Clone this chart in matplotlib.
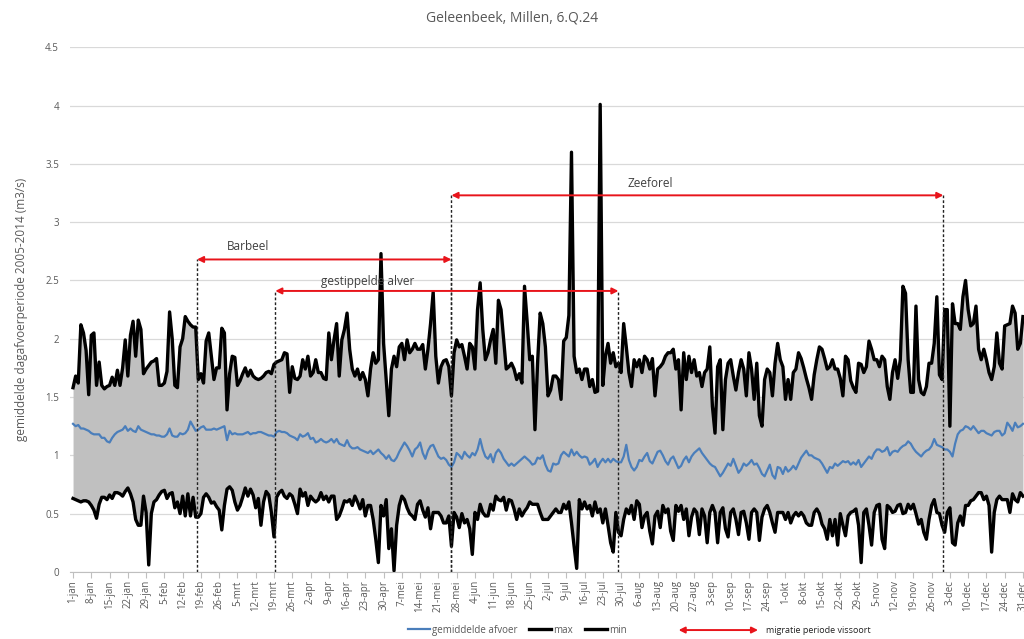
import datetime
import numpy as np
import matplotlib
matplotlib.use('Agg')
import matplotlib.pyplot as plt
from matplotlib.lines import Line2D

plt.rcParams['font.family'] = ['Open Sans', 'DejaVu Sans']

# dagwaarden 1-jan t/m 31-dec (m3/s)
max_afvoer = [
    1.58, 1.68, 1.62, 2.12, 2.05, 1.90, 1.52, 2.03, 2.05, 1.60,
    1.80, 1.60, 1.57, 1.59, 1.60, 1.67, 1.60, 1.73, 1.60, 1.75,
    1.99, 1.68, 2.03, 2.15, 1.85, 2.16, 2.08, 1.70, 1.74, 1.77,
    1.80, 1.81, 1.83, 1.60, 1.60, 1.62, 1.72, 2.23, 2.00, 1.60,
    1.58, 1.93, 2.00, 2.19, 2.15, 2.12, 2.10, 2.10, 1.65, 1.70,
    1.62, 1.98, 2.05, 1.85, 1.65, 1.75, 1.75, 2.09, 2.05, 1.39,
    1.70, 1.85, 1.84, 1.60, 1.64, 1.70, 1.75, 1.68, 1.73, 1.68,
    1.66, 1.65, 1.66, 1.68, 1.71, 1.72, 1.70, 1.78, 1.80, 1.81,
    1.82, 1.88, 1.87, 1.54, 1.76, 1.66, 1.65, 1.68, 1.82, 1.74,
    1.85, 1.68, 1.71, 1.82, 1.71, 1.71, 1.66, 1.65, 2.05, 1.82,
    1.99, 2.13, 1.68, 1.99, 2.08, 2.22, 1.91, 1.74, 1.68, 1.74,
    1.65, 1.71, 1.65, 1.51, 1.74, 1.88, 1.79, 1.82, 2.73, 1.96,
    1.65, 1.34, 1.74, 1.85, 1.76, 1.93, 1.96, 1.82, 1.99, 1.88,
    1.91, 1.96, 1.91, 1.91, 1.95, 1.74, 1.91, 2.13, 2.40, 1.85,
    1.62, 1.76, 1.81, 1.82, 1.76, 1.51, 1.88, 1.99, 1.93, 1.95,
    1.85, 1.74, 1.96, 1.93, 1.74, 2.25, 2.48, 2.08, 1.82, 1.88,
    1.99, 2.08, 1.79, 2.33, 2.25, 1.99, 1.74, 1.76, 1.79, 1.74,
    1.65, 1.70, 1.62, 2.45, 2.15, 1.82, 1.85, 1.22, 1.79, 2.22,
    2.13, 1.93, 1.51, 1.56, 1.68, 1.68, 1.65, 1.48, 1.98, 2.01,
    2.20, 3.60, 1.85, 1.71, 1.74, 1.65, 1.74, 1.74, 1.59, 1.65,
    1.54, 1.55, 4.01, 1.60, 1.85, 1.96, 1.79, 1.88, 1.76, 1.79,
    1.71, 2.13, 1.93, 1.71, 1.59, 1.82, 1.76, 1.82, 1.71, 1.85,
    1.82, 1.74, 1.83, 1.51, 1.74, 1.76, 1.79, 1.85, 1.88, 1.88,
    1.91, 1.74, 1.82, 1.39, 1.88, 1.65, 1.85, 1.71, 1.82, 1.68,
    1.71, 1.59, 1.71, 1.74, 1.93, 1.42, 1.19, 1.76, 1.82, 1.22,
    1.65, 1.79, 1.82, 1.68, 1.56, 1.71, 1.82, 1.74, 1.51, 1.88,
    1.74, 1.48, 1.79, 1.34, 1.25, 1.65, 1.74, 1.71, 1.51, 1.79,
    1.96, 1.82, 1.76, 1.48, 1.65, 1.48, 1.71, 1.74, 1.88, 1.83,
    1.75, 1.66, 1.58, 1.48, 1.69, 1.82, 1.93, 1.91, 1.83, 1.74,
    1.76, 1.82, 1.74, 1.74, 1.66, 1.51, 1.85, 1.82, 1.64, 1.58,
    1.54, 1.79, 1.78, 1.71, 1.76, 1.98, 1.91, 1.82, 1.82, 1.76,
    1.85, 1.82, 1.59, 1.48, 1.71, 1.82, 1.66, 1.82, 2.45, 2.39,
    1.82, 1.54, 1.54, 2.28, 1.65, 1.54, 1.52, 1.59, 1.79, 1.79,
    1.96, 2.36, 1.69, 1.65, 2.25, 2.25, 1.25, 2.30, 2.13, 2.13,
    2.08, 2.36, 2.50, 2.25, 2.11, 2.13, 2.28, 1.91, 1.82, 1.91,
    1.82, 1.71, 1.65, 1.76, 2.05, 1.79, 1.74, 2.11, 2.12, 2.13,
    2.28, 2.22, 1.91, 1.96, 2.19,
]

min_afvoer = [
    0.63, 0.62, 0.61, 0.60, 0.61, 0.61, 0.60, 0.57, 0.53, 0.46,
    0.58, 0.64, 0.64, 0.62, 0.66, 0.63, 0.68, 0.68, 0.67, 0.65,
    0.69, 0.72, 0.67, 0.60, 0.45, 0.40, 0.40, 0.65, 0.51, 0.06,
    0.50, 0.60, 0.62, 0.66, 0.69, 0.70, 0.63, 0.67, 0.68, 0.55,
    0.60, 0.50, 0.65, 0.48, 0.67, 0.48, 0.64, 0.47, 0.47, 0.50,
    0.64, 0.67, 0.64, 0.59, 0.60, 0.56, 0.53, 0.36, 0.57, 0.71,
    0.73, 0.70, 0.60, 0.53, 0.57, 0.64, 0.72, 0.65, 0.71, 0.66,
    0.55, 0.63, 0.40, 0.60, 0.69, 0.66, 0.51, 0.30, 0.64, 0.68,
    0.70, 0.65, 0.63, 0.67, 0.65, 0.58, 0.50, 0.71, 0.65, 0.68,
    0.57, 0.65, 0.62, 0.60, 0.62, 0.68, 0.62, 0.65, 0.60, 0.65,
    0.65, 0.45, 0.48, 0.54, 0.61, 0.60, 0.62, 0.57, 0.65, 0.60,
    0.54, 0.62, 0.48, 0.57, 0.57, 0.45, 0.28, 0.08, 0.57, 0.48,
    0.62, 0.20, 0.37, 0.01, 0.40, 0.57, 0.65, 0.62, 0.55, 0.50,
    0.48, 0.45, 0.58, 0.61, 0.53, 0.47, 0.55, 0.37, 0.51, 0.51,
    0.51, 0.48, 0.42, 0.42, 0.48, 0.22, 0.51, 0.47, 0.38, 0.50,
    0.42, 0.45, 0.37, 0.15, 0.51, 0.45, 0.58, 0.51, 0.48, 0.48,
    0.58, 0.53, 0.65, 0.62, 0.61, 0.64, 0.53, 0.62, 0.61, 0.54,
    0.45, 0.54, 0.48, 0.52, 0.55, 0.60, 0.58, 0.58, 0.58, 0.51,
    0.45, 0.45, 0.45, 0.48, 0.51, 0.54, 0.51, 0.51, 0.58, 0.54,
    0.60, 0.42, 0.22, 0.03, 0.62, 0.54, 0.60, 0.54, 0.57, 0.48,
    0.60, 0.51, 0.54, 0.42, 0.54, 0.40, 0.25, 0.17, 0.51, 0.34,
    0.31, 0.45, 0.54, 0.50, 0.57, 0.45, 0.61, 0.58, 0.38, 0.48,
    0.51, 0.35, 0.24, 0.48, 0.52, 0.38, 0.57, 0.51, 0.54, 0.35,
    0.27, 0.57, 0.52, 0.57, 0.45, 0.54, 0.31, 0.47, 0.54, 0.51,
    0.32, 0.54, 0.48, 0.25, 0.51, 0.57, 0.51, 0.25, 0.51, 0.55,
    0.37, 0.30, 0.51, 0.54, 0.45, 0.32, 0.51, 0.52, 0.42, 0.28,
    0.51, 0.54, 0.51, 0.27, 0.47, 0.54, 0.57, 0.51, 0.42, 0.34,
    0.51, 0.51, 0.51, 0.45, 0.51, 0.42, 0.48, 0.51, 0.48, 0.51,
    0.48, 0.42, 0.40, 0.40, 0.51, 0.54, 0.50, 0.41, 0.37, 0.28,
    0.45, 0.31, 0.45, 0.23, 0.50, 0.40, 0.31, 0.48, 0.51, 0.52,
    0.54, 0.40, 0.08, 0.51, 0.54, 0.40, 0.23, 0.51, 0.57, 0.58,
    0.28, 0.20, 0.57, 0.55, 0.51, 0.52, 0.57, 0.58, 0.50, 0.51,
    0.58, 0.54, 0.58, 0.50, 0.41, 0.45, 0.34, 0.28, 0.45, 0.57,
    0.62, 0.51, 0.50, 0.40, 0.34, 0.51, 0.55, 0.25, 0.23, 0.42,
    0.48, 0.40, 0.57, 0.57, 0.61, 0.62, 0.65, 0.68, 0.68, 0.62,
    0.65, 0.57, 0.17, 0.51, 0.62, 0.65, 0.62, 0.62, 0.62, 0.51,
    0.67, 0.62, 0.60, 0.68, 0.65,
]

gem_afvoer = [
    1.27, 1.25, 1.26, 1.23, 1.23, 1.22, 1.21, 1.19, 1.18, 1.18,
    1.18, 1.15, 1.15, 1.12, 1.11, 1.15, 1.18, 1.20, 1.21, 1.22,
    1.25, 1.21, 1.23, 1.21, 1.20, 1.25, 1.22, 1.21, 1.20, 1.19,
    1.18, 1.18, 1.17, 1.17, 1.16, 1.16, 1.18, 1.23, 1.17, 1.16,
    1.16, 1.19, 1.18, 1.19, 1.22, 1.29, 1.25, 1.21, 1.22, 1.24,
    1.25, 1.22, 1.22, 1.22, 1.23, 1.22, 1.23, 1.24, 1.25, 1.13,
    1.21, 1.18, 1.19, 1.18, 1.18, 1.18, 1.19, 1.20, 1.18, 1.19,
    1.19, 1.20, 1.20, 1.19, 1.18, 1.17, 1.17, 1.16, 1.20, 1.21,
    1.20, 1.20, 1.19, 1.17, 1.16, 1.15, 1.13, 1.18, 1.16, 1.17,
    1.19, 1.14, 1.15, 1.11, 1.12, 1.14, 1.12, 1.11, 1.12, 1.14,
    1.11, 1.14, 1.10, 1.09, 1.08, 1.13, 1.08, 1.06, 1.06, 1.07,
    1.05, 1.04, 1.03, 1.02, 1.04, 1.01, 1.03, 1.05, 1.02, 1.00,
    0.97, 1.00, 0.96, 0.95, 0.98, 1.03, 1.07, 1.11, 1.08, 1.04,
    0.99, 1.05, 1.07, 1.11, 1.02, 0.97, 1.04, 1.08, 1.09, 1.04,
    0.99, 0.97, 0.98, 0.96, 0.92, 0.90, 0.94, 1.02, 1.00, 0.97,
    1.03, 1.00, 0.98, 1.02, 1.00, 1.05, 1.14, 1.05, 0.99, 0.97,
    1.01, 0.94, 1.02, 1.05, 1.02, 0.97, 0.94, 0.91, 0.93, 0.91,
    0.93, 0.95, 0.97, 0.99, 0.97, 0.95, 0.92, 0.93, 0.98, 0.97,
    1.00, 0.92, 0.87, 0.86, 0.93, 0.92, 0.93, 1.00, 1.03, 1.01,
    0.99, 1.05, 1.00, 1.03, 1.00, 0.98, 0.99, 0.98, 0.92, 0.94,
    0.97, 0.90, 0.94, 0.97, 0.94, 0.97, 0.94, 0.97, 0.95, 0.94,
    0.94, 0.99, 1.09, 0.96, 0.90, 0.87, 0.90, 0.96, 0.95, 0.99,
    1.02, 0.95, 0.93, 0.98, 1.03, 1.04, 1.00, 0.95, 0.92, 0.97,
    0.99, 0.94, 0.89, 0.91, 0.96, 0.99, 0.94, 0.99, 1.02, 1.04,
    1.06, 1.02, 0.99, 0.96, 0.93, 0.91, 0.90, 0.86, 0.82, 0.85,
    0.89, 0.93, 0.91, 0.97, 0.91, 0.85, 0.88, 0.93, 0.91, 0.93,
    0.96, 0.92, 0.93, 0.89, 0.84, 0.82, 0.87, 0.92, 0.83, 0.80,
    0.90, 0.89, 0.84, 0.90, 0.86, 0.88, 0.91, 0.88, 0.93, 0.98,
    1.01, 1.04, 1.00, 1.00, 0.98, 0.97, 0.96, 0.93, 0.89, 0.85,
    0.90, 0.89, 0.93, 0.91, 0.93, 0.95, 0.94, 0.95, 0.92, 0.94,
    0.92, 0.96, 0.90, 0.93, 0.96, 0.99, 0.97, 1.02, 1.05, 1.05,
    1.03, 1.04, 1.07, 1.00, 1.03, 1.04, 1.03, 1.06, 1.08, 1.09,
    1.12, 1.10, 1.06, 1.03, 1.01, 0.99, 1.02, 1.04, 1.05, 1.08,
    1.14, 1.09, 1.08, 1.07, 1.05, 1.05, 1.03, 0.99, 1.10, 1.18,
    1.21, 1.22, 1.25, 1.24, 1.22, 1.25, 1.22, 1.19, 1.21, 1.21,
    1.19, 1.18, 1.17, 1.20, 1.21, 1.21, 1.17, 1.19, 1.28, 1.25,
    1.21, 1.28, 1.24, 1.25, 1.27,
]

maanden = ['jan', 'feb', 'mrt', 'apr', 'mei', 'jun',
           'jul', 'aug', 'sep', 'okt', 'nov', 'dec']

# migratieperiodes: (soort, start dag, eind dag, hoogte pijl)
vissoorten = ['Barbeel', 'gestippelde alver', 'Zeeforel']
periode_start = [47.5, 77.5, 145.0]
periode_eind = [145.0, 209.0, 333.5]
pijl_hoogte = [2.68, 2.41, 3.23]

dagen = np.arange(len(max_afvoer))
start = datetime.date(2015, 1, 1)
tick_pos = dagen[::7]
tick_labels = []
for d in tick_pos:
    dt = start + datetime.timedelta(days=int(d))
    tick_labels.append('%d-%s' % (dt.day, maanden[dt.month - 1]))

grijs = '#595959'

fig = plt.figure(figsize=(10.24, 6.39), dpi=100)
ax = fig.add_axes([0.0684, 0.105, 0.9316, 0.821])

ax.fill_between(dagen, min_afvoer, max_afvoer, color='#c0c0c0', lw=0, zorder=1)
ax.plot(dagen, max_afvoer, color='black', lw=2.4, zorder=3)
ax.plot(dagen, min_afvoer, color='black', lw=2.4, zorder=3)
ax.plot(dagen, gem_afvoer, color='#4a7ebb', lw=1.6, zorder=4)

# stippellijnen en pijlen migratie
for naam, s, e, h in zip(vissoorten, periode_start, periode_eind, pijl_hoogte):
    for x in (s, e):
        ax.plot([x, x], [0, h], color='#222222', lw=1.0, ls=(0, (2, 1.5)), zorder=5)
    ax.annotate('', xy=(s, h), xytext=(e, h),
                arrowprops=dict(arrowstyle='<|-|>', color='#e8141b', lw=1.4,
                                mutation_scale=9, shrinkA=0, shrinkB=0),
                zorder=6)

ax.text(67, 2.79, 'Barbeel', color='#404040', fontsize=8.5, ha='center', va='center')
ax.text(113, 2.49, 'gestippelde alver', color='#404040', fontsize=8.5, ha='center', va='center')
ax.text(221, 3.33, 'Zeeforel', color='#404040', fontsize=8.5, ha='center', va='center')

ax.set_xlim(-1.15, 364.4)
ax.set_ylim(0, 4.5)
ax.set_yticks(np.arange(0, 4.51, 0.5))
ax.set_yticklabels(['%g' % v for v in np.arange(0, 4.51, 0.5)])
ax.set_xticks(tick_pos)
ax.set_xticklabels(tick_labels, rotation=90)
ax.tick_params(axis='y', length=0, labelsize=7, labelcolor=grijs, pad=8)
ax.tick_params(axis='x', length=4, color='#bfbfbf', labelsize=7, labelcolor=grijs, pad=2)
ax.grid(axis='y', color='#d9d9d9', lw=0.9)
ax.set_axisbelow(True)
for side in ['top', 'right', 'left']:
    ax.spines[side].set_visible(False)
ax.spines['bottom'].set_color('#bfbfbf')

ax.set_ylabel('gemiddelde dagafvoerperiode 2005-2014 (m3/s)', fontsize=8.5,
              color=grijs, labelpad=12)
fig.text(0.5, 0.972, 'Geleenbeek, Millen, 6.Q.24', ha='center', va='center',
         fontsize=10, color=grijs)

# legenda
handles = [
    Line2D([], [], color='#4a7ebb', lw=1.6),
    Line2D([], [], color='black', lw=2.4),
    Line2D([], [], color='black', lw=2.4),
]
leg = fig.legend(handles, ['gemiddelde afvoer', 'max', 'min'], loc='center',
                 bbox_to_anchor=(0.505, 0.014), ncol=3, frameon=False, fontsize=7,
                 handlelength=2.3, handletextpad=0.2, columnspacing=1.2)
for t in leg.get_texts():
    t.set_color(grijs)
fig.add_artist(matplotlib.patches.FancyArrowPatch(
    (0.66, 0.014), (0.743, 0.014), transform=fig.transFigure,
    arrowstyle='<|-|>', color='#e8141b', lw=1.4, mutation_scale=9))
fig.text(0.748, 0.014, 'migratie periode vissoort', fontsize=6.5,
         color='#222222', va='center')

fig.savefig('out.png', dpi=100)
